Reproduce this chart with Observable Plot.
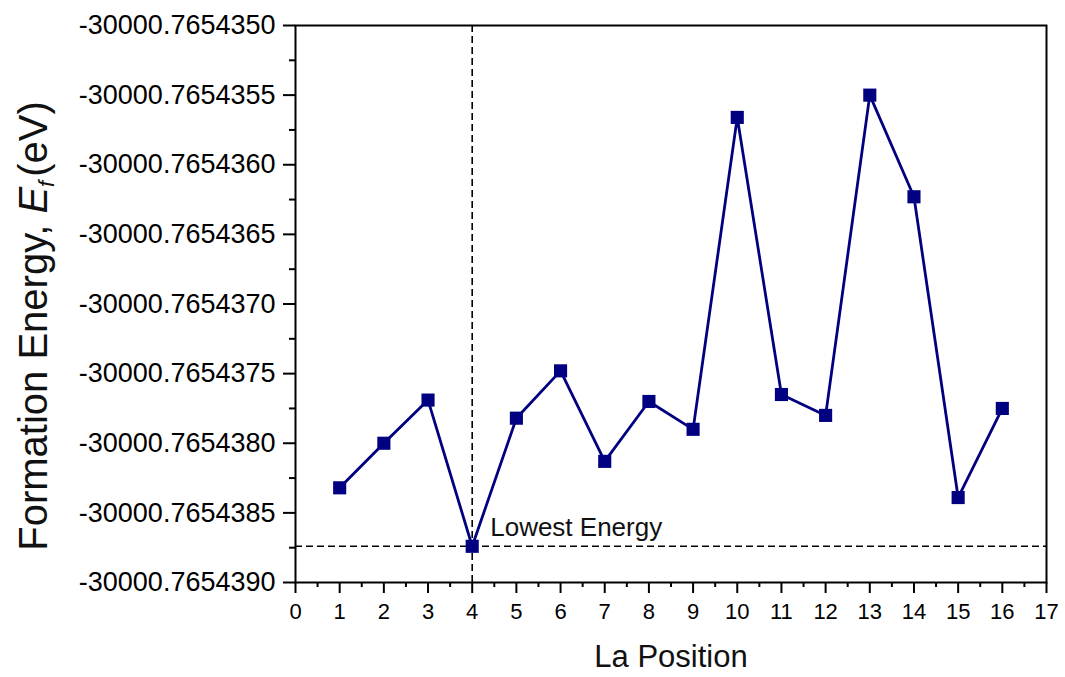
<!DOCTYPE html>
<html>
<head>
<meta charset="utf-8">
<script src="https://cdn.jsdelivr.net/npm/d3@7"></script>
<script src="https://cdn.jsdelivr.net/npm/@observablehq/plot@0.6"></script>
<style>
  html, body { margin: 0; padding: 0; background: #fff; }
  #chart { width: 1065px; height: 677px; }
</style>
</head>
<body>
<div id="chart"></div>
<script>
// La substitution site and the resulting formation energy (eV)
const positions = [1, 2, 3, 4, 5, 6, 7, 8, 9, 10, 11, 12, 13, 14, 15, 16];
const energies = [
  -30000.76543832, -30000.76543800, -30000.76543769, -30000.76543874,
  -30000.76543782, -30000.76543748, -30000.76543813, -30000.76543770,
  -30000.76543790, -30000.76543566, -30000.76543765, -30000.76543780,
  -30000.76543550, -30000.76543623, -30000.76543839, -30000.76543775
];

// Axis ticks
const xTicks = [0, 1, 2, 3, 4, 5, 6, 7, 8, 9, 10, 11, 12, 13, 14, 15, 16, 17];
const yTicks = [
  -30000.7654390, -30000.7654385, -30000.7654380, -30000.7654375, -30000.7654370,
  -30000.7654365, -30000.7654360, -30000.7654355, -30000.7654350
];
const lowestLabel = "Lowest Energy";

const data = positions.map((p, i) => ({position: p, energy: energies[i]}));
const lowestIndex = d3.minIndex(energies);
const lowest = data[lowestIndex];

// minor ticks halfway between the labelled ones
const xMinor = d3.pairs(xTicks, (a, b) => (a + b) / 2);
const yMinor = d3.pairs(yTicks, (a, b) => (a + b) / 2);

// plain hyphen for the minus sign
const fmt7 = d3.formatLocale({decimal: ".", thousands: "", grouping: [3], currency: ["", ""], minus: "-"}).format(".7f");

const navy = "#000080";
const font = "'Liberation Sans', Arial, sans-serif";

const chart = Plot.plot({
  width: 1065,
  height: 677,
  marginLeft: 295,
  marginRight: 19,
  marginTop: 25,
  marginBottom: 95,
  style: {fontFamily: font, background: "white", color: "black"},
  x: {domain: [xTicks[0], xTicks[xTicks.length - 1]]},
  y: {domain: [yTicks[0], yTicks[yTicks.length - 1]]},
  marks: [
    Plot.ruleX([lowest.position], {stroke: "black", strokeWidth: 1.6, strokeDasharray: "7,4"}),
    Plot.ruleY([lowest.energy], {stroke: "black", strokeWidth: 1.6, strokeDasharray: "7,4"}),
    Plot.line(data, {x: "position", y: "energy", stroke: navy, strokeWidth: 2.8}),
    Plot.dot(data, {x: "position", y: "energy", symbol: "square", r: 7.4, fill: navy, stroke: "none"}),
    Plot.text([lowest], {
      x: "position", y: "energy", text: () => lowestLabel,
      textAnchor: "start", lineAnchor: "bottom", dx: 18, dy: -10,
      fontSize: 26, fill: "#111"
    }),
    Plot.axisX({ticks: xTicks, tickSize: 11, tickPadding: 10, strokeWidth: 2, fontSize: 22, label: null, tickFormat: d3.format("d")}),
    Plot.axisX({ticks: xMinor, tickSize: 5, strokeWidth: 2, text: null, label: null}),
    Plot.axisY({ticks: yTicks, tickSize: 12, tickPadding: 8, strokeWidth: 2, fontSize: 27, label: null, tickFormat: fmt7}),
    Plot.axisY({ticks: yMinor, tickSize: 6, strokeWidth: 2, text: null, label: null}),
    Plot.text(["La Position"], {frameAnchor: "bottom", dy: 84, lineAnchor: "bottom", fontSize: 31, fill: "#111"}),
    Plot.frame({stroke: "black", strokeWidth: 2})
  ]
});

// y-axis title with italic E and subscript f
const title = d3.select(chart).append("text")
  .attr("transform", "translate(47,326) rotate(-90)")
  .attr("text-anchor", "middle")
  .attr("font-family", font)
  .attr("font-size", 40)
  .attr("fill", "#111");
title.append("tspan").text("Formation Energy, ");
title.append("tspan").attr("font-style", "italic").text("E");
title.append("tspan").attr("font-style", "italic").attr("font-size", 22).attr("dy", 7).text("f");
title.append("tspan").attr("dy", -7).attr("dx", 4).text("(eV)");

document.getElementById("chart").appendChild(chart);
</script>
</body>
</html>
